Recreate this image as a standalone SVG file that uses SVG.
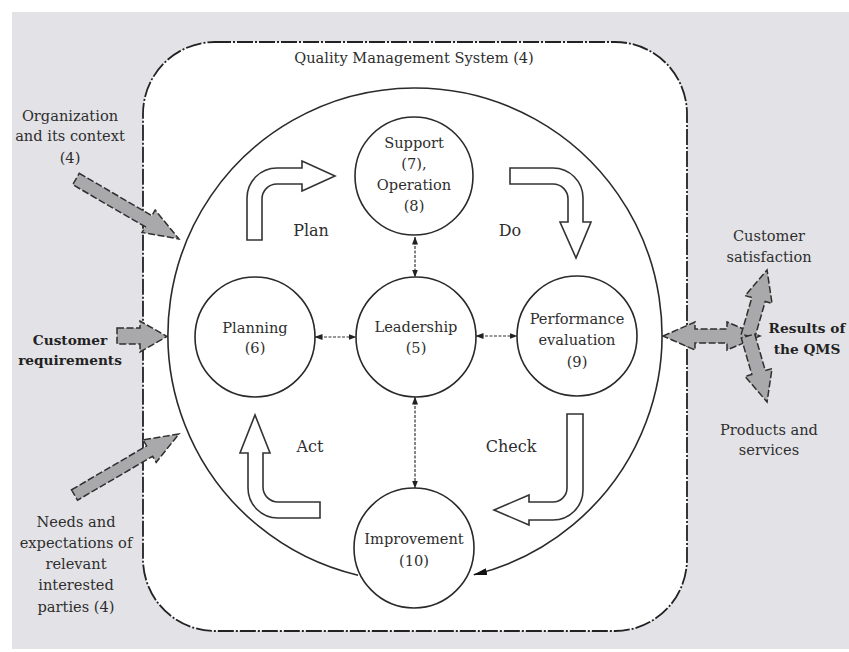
<svg xmlns="http://www.w3.org/2000/svg" width="849" height="652" viewBox="0 0 849 652">
<defs>
<style>
text{font-family:"DejaVu Serif","Liberation Serif",serif;fill:#2e2e2e;text-anchor:middle}
.lbl{font-size:14.6px}
.bold{font-size:13.7px;font-weight:bold;fill:#222}
.pdca{font-size:16px}
.node{fill:#fff;stroke:#2a2a2a;stroke-width:1.6}
.hollow{fill:#fff;stroke:#333;stroke-width:1.6;stroke-linejoin:miter}
.gray{fill:#a9a9ab;stroke:#2f2f2f;stroke-width:1.5;stroke-dasharray:7,2.5}
.conn{fill:none;stroke:#333;stroke-width:1.2;stroke-dasharray:3,1.5}
.cycle{fill:none;stroke:#2a2a2a;stroke-width:1.6}
</style>
<marker id="dh" viewBox="0 0 8 6" refX="7.5" refY="3" markerWidth="8" markerHeight="6" markerUnits="userSpaceOnUse" orient="auto-start-reverse">
<path d="M0,0 L8,3 L0,6 Z" fill="#222"/>
</marker>
<marker id="ah" viewBox="0 0 14 7" refX="13" refY="3.5" markerWidth="14" markerHeight="7" markerUnits="userSpaceOnUse" orient="auto">
<path d="M0,0 L14,3.5 L0,7 Z" fill="#111"/>
</marker>
</defs>

<rect x="0" y="0" width="849" height="652" fill="#ffffff"/>
<rect x="12" y="12" width="837" height="637" fill="#e3e3e7"/>

<g id="qms">
<rect x="143" y="42" width="544" height="589" rx="72" ry="72" fill="#ffffff" stroke="#222" stroke-width="1.8" stroke-dasharray="16,2,2,2"/>
<text class="lbl" x="414" y="63">Quality Management System (4)</text>
</g>

<g id="connectors">
<path class="cycle" d="M358,575.3 A247,247 0 1 1 474,574.8" marker-end="url(#ah)"/>
<line class="conn" x1="415" y1="237" x2="415" y2="277" marker-start="url(#dh)" marker-end="url(#dh)"/>
<line class="conn" x1="415" y1="397" x2="415" y2="488" marker-start="url(#dh)" marker-end="url(#dh)"/>
<line class="conn" x1="315" y1="337" x2="356" y2="337" marker-start="url(#dh)" marker-end="url(#dh)"/>
<line class="conn" x1="476" y1="336" x2="517" y2="336" marker-start="url(#dh)" marker-end="url(#dh)"/>
</g>

<g id="support-operation">
<circle class="node" cx="414" cy="176" r="59"/>
<text class="lbl" x="414" y="148">Support</text>
<text class="lbl" x="414" y="169">(7),</text>
<text class="lbl" x="414" y="190">Operation</text>
<text class="lbl" x="414" y="211">(8)</text>
</g>

<g id="leadership">
<circle class="node" cx="416" cy="337" r="60"/>
<text class="lbl" x="416" y="332">Leadership</text>
<text class="lbl" x="416" y="353">(5)</text>
</g>

<g id="planning">
<circle class="node" cx="255" cy="337" r="60"/>
<text class="lbl" x="255" y="333">Planning</text>
<text class="lbl" x="255" y="353">(6)</text>
</g>

<g id="performance-evaluation">
<circle class="node" cx="577" cy="336" r="60"/>
<text class="lbl" x="577" y="324">Performance</text>
<text class="lbl" x="577" y="345">evaluation</text>
<text class="lbl" x="577" y="367">(9)</text>
</g>

<g id="improvement">
<circle class="node" cx="414" cy="548" r="60"/>
<text class="lbl" x="414" y="544">Improvement</text>
<text class="lbl" x="414" y="566">(10)</text>
</g>

<g id="pdca-arrows">
<path class="hollow" d="M247,240 V198 A30,30 0 0 1 277,168 H302 V161 L335,176 L302,191 V184 H277 A15,15 0 0 0 262,199 V240 Z"/>
<path class="hollow" d="M510,168 H553 A30,30 0 0 1 583,198 V222 H591 L576,258 L560,222 H568 V199 A15,15 0 0 0 553,184 H510 Z"/>
<path class="hollow" d="M567,414 H583 V490 A30,30 0 0 1 553,520 H529 V525 L494,510 L529,495 V502 H553 A14,14 0 0 0 567,488 Z"/>
<path class="hollow" d="M320,502 V518 H278 A30,30 0 0 1 248,488 V453 H240 L255,415 L270,453 H263 V487 A15,15 0 0 0 278,502 Z"/>
<text class="pdca" x="311" y="236">Plan</text>
<text class="pdca" x="510" y="236">Do</text>
<text class="pdca" x="511" y="452">Check</text>
<text class="pdca" x="310" y="452">Act</text>
</g>

<g id="organization-context">
<path class="gray" transform="translate(76,179) rotate(30.2)" d="M0,-6.5 H84 V-13 L119,0 L84,13 V6.5 H0 Z"/>
<text class="lbl" x="70" y="121">Organization</text>
<text class="lbl" x="70" y="141">and its context</text>
<text class="lbl" x="70" y="163">(4)</text>
</g>

<g id="customer-requirements">
<path class="gray" d="M117,328 H140 V321 L167,336.5 L140,352 V344 H117 Z"/>
<text class="bold" x="70" y="345">Customer</text>
<text class="bold" x="70" y="365">requirements</text>
</g>

<g id="needs-expectations">
<path class="gray" transform="translate(74.5,495) rotate(-30.3)" d="M0,-6 H87 V-13 L121,0 L87,13 V6 H0 Z"/>
<text class="lbl" x="76" y="527">Needs and</text>
<text class="lbl" x="76" y="548">expectations of</text>
<text class="lbl" x="76" y="569">relevant</text>
<text class="lbl" x="76" y="590">interested</text>
<text class="lbl" x="76" y="612">parties (4)</text>
</g>

<g id="results">
<path class="gray" d="M663,336 L695,322 V329 H727 V322 L760,336 L727,350 V343 H695 V350 Z"/>
<path class="gray" transform="translate(748,336) rotate(-73.9)" d="M0,-7 H38 V-14 L68.7,0 L38,14 V7 H0 Z"/>
<path class="gray" transform="translate(748,336) rotate(73.9)" d="M0,-7 H38 V-14 L68.7,0 L38,14 V7 H0 Z"/>
<text class="bold" x="807" y="333">Results of</text>
<text class="bold" x="807" y="354">the QMS</text>
</g>

<g id="customer-satisfaction">
<text class="lbl" x="769" y="241">Customer</text>
<text class="lbl" x="769" y="262">satisfaction</text>
</g>

<g id="products-services">
<text class="lbl" x="769" y="435">Products and</text>
<text class="lbl" x="769" y="455">services</text>
</g>
</svg>
